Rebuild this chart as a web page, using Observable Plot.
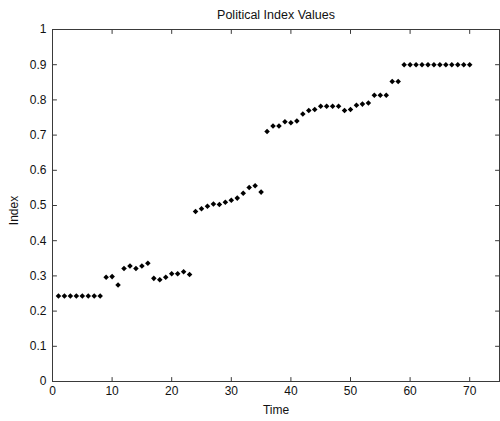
<!DOCTYPE html>
<html>
<head>
<meta charset="utf-8">
<script src="https://cdn.jsdelivr.net/npm/d3@7"></script>
<script src="https://cdn.jsdelivr.net/npm/@observablehq/plot@0.6"></script>
<style>
  html, body { margin: 0; padding: 0; background: #fff; }
  #chart svg { display: block; }
</style>
</head>
<body>
<div id="chart"></div>
<script>
// Political index, one observation per time step
const time = [
  1, 2, 3, 4, 5, 6, 7, 8, 9, 10,
  11, 12, 13, 14, 15, 16, 17, 18, 19, 20,
  21, 22, 23, 24, 25, 26, 27, 28, 29, 30,
  31, 32, 33, 34, 35, 36, 37, 38, 39, 40,
  41, 42, 43, 44, 45, 46, 47, 48, 49, 50,
  51, 52, 53, 54, 55, 56, 57, 58, 59, 60,
  61, 62, 63, 64, 65, 66, 67, 68, 69, 70
];
const indexValue = [
  0.243, 0.243, 0.243, 0.243, 0.243, 0.243, 0.243, 0.243, 0.296, 0.298,
  0.274, 0.321, 0.328, 0.321, 0.328, 0.336, 0.293, 0.289, 0.296, 0.306,
  0.306, 0.312, 0.304, 0.483, 0.491, 0.498, 0.504, 0.503, 0.509, 0.515,
  0.521, 0.535, 0.551, 0.556, 0.538, 0.710, 0.726, 0.726, 0.738, 0.735,
  0.740, 0.760, 0.770, 0.773, 0.782, 0.782, 0.782, 0.782, 0.770, 0.773,
  0.785, 0.788, 0.791, 0.813, 0.813, 0.813, 0.852, 0.852, 0.900, 0.900,
  0.900, 0.900, 0.900, 0.900, 0.900, 0.900, 0.900, 0.900, 0.900, 0.900
];

const xTicks = [0, 10, 20, 30, 40, 50, 60, 70];
const yTicks = [0, 0.1, 0.2, 0.3, 0.4, 0.5, 0.6, 0.7, 0.8, 0.9, 1];

const titleText = "Political Index Values";
const xLabel = "Time";
const yLabel = "Index";

const points = time.map((t, i) => ({t, v: indexValue[i]}));

const axisColor = "#3a3a3a";
const tickLen = 4;
// short inward tick drawn from the anchor point upward before rotation
const tickShape = {draw(context, l) { context.moveTo(0, 0); context.lineTo(0, -l); }};
const tickStyle = {length: tickLen, anchor: "start", shape: tickShape, stroke: axisColor, strokeWidth: 1};
const centered = {textAnchor: "middle", lineAnchor: "middle", fill: "#111"};

const chart = Plot.plot({
  width: 500,
  height: 421,
  marginLeft: 52,
  marginRight: 1,
  marginTop: 29,
  marginBottom: 40,
  style: {fontFamily: "'Liberation Sans', Arial, sans-serif", fontSize: "12px", color: "#000", background: "#fff"},
  x: {domain: [0, 75]},
  y: {domain: [0, 1]},
  marks: [
    Plot.frame({stroke: axisColor}),
    // inward ticks on all four sides
    Plot.vectorX(xTicks, {x: d => d, frameAnchor: "bottom", rotate: 0, ...tickStyle}),
    Plot.vectorX(xTicks, {x: d => d, frameAnchor: "top", rotate: 180, ...tickStyle}),
    Plot.vectorY(yTicks, {y: d => d, frameAnchor: "left", rotate: 90, ...tickStyle}),
    Plot.vectorY(yTicks, {y: d => d, frameAnchor: "right", rotate: -90, ...tickStyle}),
    Plot.axisX(xTicks, {tickSize: 0, tickPadding: 5, tickFormat: d => String(d), fill: "#111", label: null}),
    Plot.axisY(yTicks, {tickSize: 0, tickPadding: 6, tickFormat: d => String(d), fill: "#111", label: null}),
    Plot.dot(points, {x: "t", y: "v", symbol: "diamond2", r: 2.5, fill: "#000", stroke: "none"}),
    Plot.text([titleText], {frameAnchor: "top", dy: -15, fontSize: 12.5, ...centered}),
    Plot.text([xLabel], {frameAnchor: "bottom", dy: 29, fontSize: 12, ...centered}),
    Plot.text([yLabel], {frameAnchor: "left", dx: -38, dy: 5, rotate: -90, fontSize: 12, ...centered})
  ]
});

document.getElementById("chart").append(chart);
</script>
</body>
</html>
